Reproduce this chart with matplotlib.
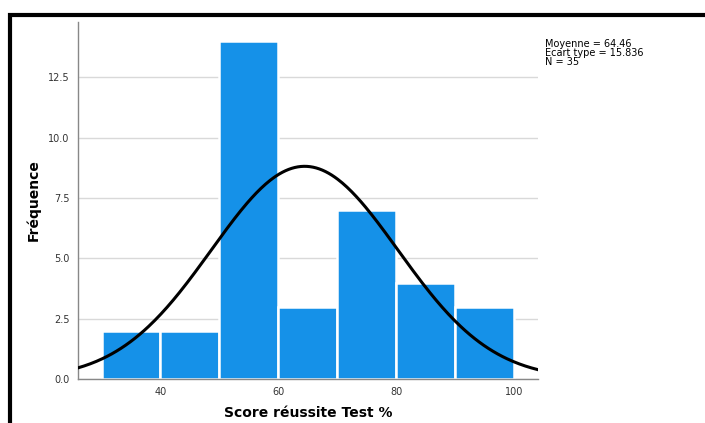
import numpy as np
import matplotlib
matplotlib.use("Agg")
import matplotlib.pyplot as plt
from matplotlib.patches import Rectangle

# Histogram data (bins of width 10)
bin_edges = [30, 40, 50, 60, 70, 80, 90, 100]
counts = [2, 2, 14, 3, 7, 4, 3]

# Summary statistics shown in the chart
moyenne = 64.46
ecart_type = 15.836
n_obs = 35

x_ticks = [40, 60, 80, 100]
y_ticks = [0.0, 2.5, 5.0, 7.5, 10.0, 12.5]

fig = plt.figure(figsize=(7.05, 4.23), dpi=100)
ax = fig.add_axes([0.1106, 0.104, 0.652, 0.844])

lefts = bin_edges[:-1]
widths = np.diff(bin_edges)
ax.bar(lefts, counts, width=widths, align='edge', color='#1591e8',
       edgecolor='white', linewidth=1.8, zorder=2)

# normal curve scaled to the histogram
xs = np.linspace(26, 104, 300)
pdf = np.exp(-0.5 * ((xs - moyenne) / ecart_type) ** 2) / (ecart_type * np.sqrt(2 * np.pi))
ax.plot(xs, pdf * n_obs * widths[0], color='black', linewidth=2.2, zorder=3)

ax.set_xlim(26, 104)
ax.set_ylim(0, 14.8)
ax.set_xticks(x_ticks)
ax.set_yticks(y_ticks)
ax.set_yticklabels([f"{v:.1f}" for v in y_ticks])
ax.tick_params(length=0, labelsize=7, colors='#333333', pad=6)
ax.yaxis.grid(True, color='#d9d9d9', linewidth=1, zorder=0)
ax.set_axisbelow(True)
for s in ['top', 'right']:
    ax.spines[s].set_visible(False)
for s in ['left', 'bottom']:
    ax.spines[s].set_color('#888888')
    ax.spines[s].set_linewidth(1)

ax.set_xlabel('Score réussite Test %', fontsize=10, fontweight='bold', labelpad=6)
ax.set_ylabel('Fréquence', fontsize=10, fontweight='bold', labelpad=5)

fig.text(545 / 705, 1 - 39 / 423,
         f"Moyenne = {moyenne:.2f}\nEcart type = {ecart_type:.3f}\nN = {n_obs}",
         fontsize=7, family=['Liberation Sans Narrow', 'DejaVu Sans'],
         va='top', ha='left', linespacing=0.9)

# black frame around the chart
fig.patches.append(Rectangle((9.5 / 705, -0.1), 1.2, 1 - 15.5 / 423 + 0.1,
                             transform=fig.transFigure, fill=False,
                             edgecolor='black', linewidth=3))

fig.savefig('out.png', dpi=100)
